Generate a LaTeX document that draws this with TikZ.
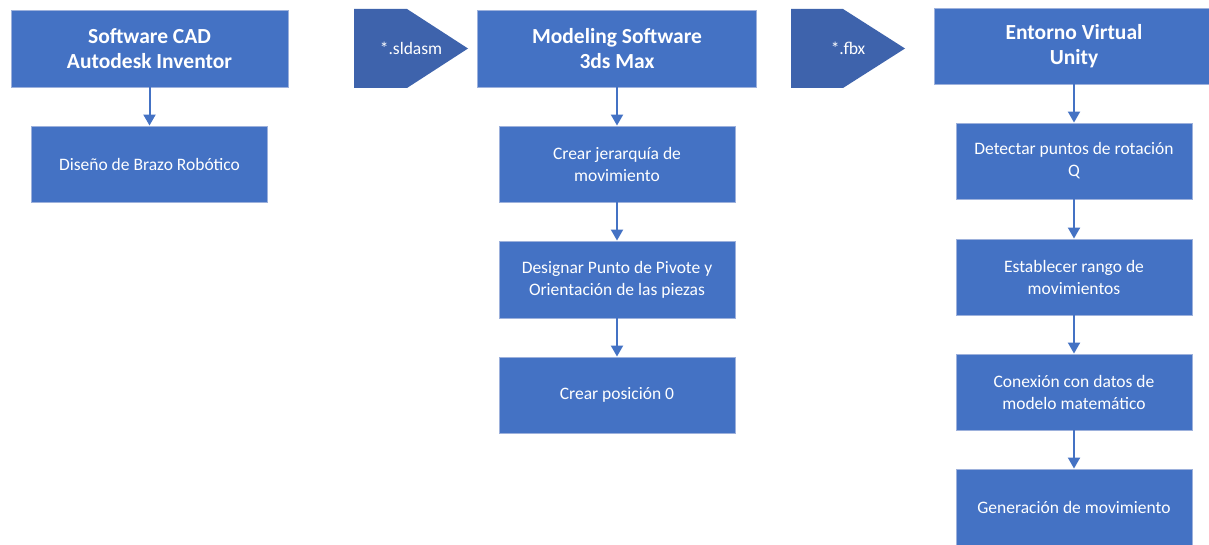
\documentclass[tikz,border=0pt]{standalone}
\usepackage{fontspec}
\setmainfont{Carlito}
\usetikzlibrary{arrows.meta}
\definecolor{boxblue}{HTML}{4472C4}
\definecolor{chevblue}{HTML}{3E63AC}
\definecolor{edgeblue}{HTML}{9DB1DC}
\tikzset{
  headbox/.style={draw=edgeblue, line width=0.9pt, fill=boxblue, text=white, font=\fontsize{21.5}{25}\selectfont\bfseries, align=center, inner sep=0pt, minimum height=77pt},
  stepbox/.style={draw=edgeblue, line width=0.9pt, fill=boxblue, text=white, font=\fontsize{17.5}{22}\selectfont, align=center, inner sep=0pt, minimum width=236pt, minimum height=76pt},
  chevtext/.style={text=white, font=\fontsize{17.5}{20}\selectfont, inner sep=0pt},
  arr/.style={draw=boxblue, line width=2pt, -{Triangle[width=12pt,length=11pt]}}
}
\begin{document}
\begin{tikzpicture}[x=1pt,y=-1pt]
\useasboundingbox (0,0) rectangle (1209,545);
\clip (0,0) rectangle (1209,545);
\fill[white] (0,0) rectangle (1209,545);
% column 1
\node[headbox, minimum width=277pt] (cad) at (149.5,48.5) {Software CAD\\Autodesk Inventor};
\node[stepbox] (dis) at (149.5,164) {Diseño de Brazo Robótico};
\draw[arr] (cad) -- (dis);
% chevron 1
\fill[chevblue] (354,9) -- (407,9) -- (468,48.5) -- (407,88) -- (354,88) -- cycle;
\node[chevtext] (ext1) at (411,48.5) {*.sldasm};
% column 2
\node[headbox, minimum width=279pt] (mod) at (617,48.5) {Modeling Software\\3ds Max};
\node[stepbox] (jer) at (617,164) {Crear jerarquía de\\movimiento};
\node[stepbox, minimum height=77pt] (piv) at (617,279.5) {Designar Punto de Pivote y\\Orientación de las piezas};
\node[stepbox] (pos) at (617,395) {Crear posición 0};
\draw[arr] (mod) -- (jer);
\draw[arr] (jer) -- (piv);
\draw[arr] (piv) -- (pos);
% chevron 2
\fill[chevblue] (791,9) -- (843,9) -- (905,48.5) -- (843,88) -- (791,88) -- cycle;
\node[chevtext] (ext2) at (848,48.5) {*.fbx};
% column 3
\node[headbox, minimum width=279pt, minimum height=76pt] (uni) at (1074,46) {Entorno Virtual\\Unity};
\node[stepbox] (det) at (1074,161) {Detectar puntos de rotación\\Q};
\node[stepbox] (ran) at (1074,277) {Establecer rango de\\movimientos};
\node[stepbox] (con) at (1074,392) {Conexión con datos de\\modelo matemático};
\node[stepbox] (gen) at (1074,507) {Generación de movimiento};
\draw[arr] (uni) -- (det);
\draw[arr] (det) -- (ran);
\draw[arr] (ran) -- (con);
\draw[arr] (con) -- (gen);
\end{tikzpicture}
\end{document}
